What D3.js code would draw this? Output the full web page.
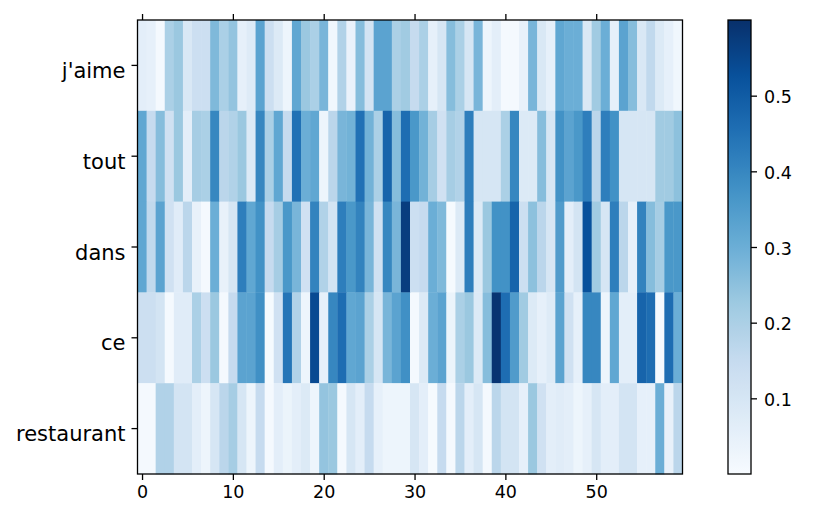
<!DOCTYPE html>
<html>
<head>
<meta charset="utf-8">
<script src="https://cdn.jsdelivr.net/npm/d3@7"></script>
<style>
  body { margin: 0; background: #fff; }
  svg { font-family: 'DejaVu Sans', sans-serif; }
</style>
</head>
<body>
<svg id="chart" width="815" height="526"></svg>
<script>
// input words (rows) and attention weights per output step (60 columns)
const words = ["j'aime", 'tout', 'dans', 'ce', 'restaurant'];

const jaime = [0.06, 0.05, 0.01, 0.20, 0.23, 0.09, 0.13, 0.13, 0.27, 0.20,
  0.24, 0.05, 0.075, 0.33, 0.13, 0.08, 0.03, 0.32, 0.23, 0.20,
  0.28, 0.02, 0.19, 0.04, 0.26, 0.11, 0.33, 0.33, 0.20, 0.22,
  0.15, 0.20, 0.05, 0.10, 0.26, 0.20, 0.10, 0.28, 0.03, 0.06,
  0.01, 0.01, 0.045, 0.28, 0.09, 0.05, 0.32, 0.30, 0.30, 0.09,
  0.22, 0.30, 0.05, 0.33, 0.26, 0.09, 0.16, 0.08, 0.05, 0.02];

const tout = [0.32, 0.15, 0.26, 0.12, 0.23, 0.06, 0.21, 0.20, 0.40, 0.17,
  0.19, 0.23, 0.08, 0.40, 0.20, 0.32, 0.15, 0.45, 0.30, 0.32,
  0.03, 0.17, 0.28, 0.29, 0.45, 0.29, 0.20, 0.48, 0.26, 0.46,
  0.36, 0.29, 0.21, 0.12, 0.21, 0.19, 0.42, 0.10, 0.10, 0.10,
  0.20, 0.40, 0.08, 0.08, 0.26, 0.10, 0.375, 0.33, 0.36, 0.42,
  0.17, 0.42, 0.375, 0.10, 0.10, 0.10, 0.10, 0.22, 0.22, 0.25];

const dans = [0.32, 0.16, 0.33, 0.12, 0.07, 0.17, 0.045, 0.01, 0.30, 0.045,
  0.10, 0.42, 0.32, 0.375, 0.15, 0.21, 0.36, 0.28, 0.12, 0.41,
  0.19, 0.11, 0.42, 0.36, 0.41, 0.28, 0.12, 0.40, 0.28, 0.57,
  0.13, 0.15, 0.30, 0.27, 0.005, 0.08, 0.42, 0.08, 0.23, 0.375,
  0.375, 0.48, 0.13, 0.25, 0.17, 0.10, 0.35, 0.06, 0.11, 0.525,
  0.22, 0.10, 0.42, 0.17, 0.05, 0.41, 0.26, 0.21, 0.36, 0.36];

const ce = [0.13, 0.13, 0.11, 0.01, 0.07, 0.07, 0.20, 0.13, 0.23, 0.01,
  0.15, 0.33, 0.33, 0.38, 0.005, 0.12, 0.44, 0.19, 0.03, 0.54,
  0.05, 0.40, 0.46, 0.32, 0.33, 0.20, 0.10, 0.28, 0.33, 0.38,
  0.01, 0.08, 0.30, 0.33, 0.035, 0.20, 0.23, 0.08, 0.26, 0.59,
  0.46, 0.35, 0.22, 0.08, 0.05, 0.075, 0.33, 0.12, 0.05, 0.40,
  0.40, 0.03, 0.32, 0.06, 0.06, 0.48, 0.46, 0.01, 0.46, 0.30];

const restaurant = [0.01, 0.01, 0.19, 0.19, 0.11, 0.11, 0.06, 0.03, 0.10, 0.17,
  0.21, 0.10, 0.03, 0.15, 0.01, 0.06, 0.035, 0.06, 0.08, 0.03,
  0.24, 0.23, 0.01, 0.10, 0.06, 0.15, 0.05, 0.03, 0.03, 0.03,
  0.10, 0.06, 0.005, 0.15, 0.01, 0.17, 0.06, 0.10, 0.01, 0.17,
  0.11, 0.11, 0.05, 0.23, 0.12, 0.06, 0.07, 0.06, 0.03, 0.05,
  0.10, 0.06, 0.06, 0.11, 0.11, 0.05, 0.05, 0.30, 0.045, 0.17];

const weights = [jaime, tout, dans, ce, restaurant];
const xTicks = [0, 10, 20, 30, 40, 50];
const cbTicks = [0.1, 0.2, 0.3, 0.4, 0.5];
const vmin = 0.0, vmax = 0.6;

// matplotlib 'Blues' stops
const blues = ['#f7fbff', '#deebf7', '#c6dbef', '#9ecae1', '#6baed6',
  '#4292c6', '#2171b5', '#08519c', '#08306b'];

const margin = { top: 20, left: 137.5, right: 132.5, bottom: 52 };
const width = 815 - margin.left - margin.right;
const height = 526 - margin.top - margin.bottom;
const nCols = jaime.length;
const tickFont = 17.5;
const wordFont = 21;

const color = d3.scaleLinear()
  .domain(blues.map((c, i) => vmin + (vmax - vmin) * i / (blues.length - 1)))
  .range(blues)
  .interpolate(d3.interpolateRgb)
  .clamp(true);

const svg = d3.select('#chart');
const g = svg.append('g').attr('transform', `translate(${margin.left},${margin.top})`);

// x is linear so the ticks sit on column centers like imshow
const x = d3.scaleLinear().domain([-0.5, nCols - 0.5]).range([0, width]);
const y = d3.scaleBand().domain(words).range([0, height]).padding(0);

// cells
const cells = [];
weights.forEach((row, r) => {
  row.forEach((v, c) => cells.push({ word: words[r], col: c, value: v }));
});

g.selectAll('.cell')
  .data(cells)
  .enter()
  .append('rect')
  .classed('cell', true)
  .attr('x', (d) => x(d.col - 0.5))
  .attr('y', (d) => y(d.word))
  .attr('width', x(1) - x(0) + 0.4)
  .attr('height', y.bandwidth() + 0.4)
  .attr('fill', (d) => color(d.value));

// frame
g.append('rect')
  .attr('width', width)
  .attr('height', height)
  .attr('fill', 'none')
  .attr('stroke', '#000')
  .attr('stroke-width', 1.3);

function styleAxis(sel, size) {
  sel.select('.domain').remove();
  sel.selectAll('line').attr('stroke', '#000').attr('stroke-width', 1.3);
  sel.selectAll('text')
    .attr('font-size', size)
    .attr('fill', '#000')
    .attr('font-family', 'DejaVu Sans');
}

// bottom axis
const xAxis = g.append('g')
  .attr('transform', `translate(0,${height})`)
  .call(d3.axisBottom(x).tickValues(xTicks).tickSize(6).tickPadding(6).tickFormat(d3.format('d')));
styleAxis(xAxis, tickFont);

// top tick marks, no labels
const xTop = g.append('g')
  .call(d3.axisTop(x).tickValues(xTicks).tickSize(6).tickFormat(''));
styleAxis(xTop, tickFont);

// left axis
const yAxis = g.append('g')
  .call(d3.axisLeft(y).tickSize(6).tickPadding(6));
styleAxis(yAxis, wordFont);
yAxis.selectAll('text').attr('dy', '0.6em');

// colorbar
const cbX = 728, cbW = 23;
const cbScale = d3.scaleLinear().domain([vmin, vmax]).range([margin.top + height, margin.top]);

const defs = svg.append('defs');
const grad = defs.append('linearGradient')
  .attr('id', 'cbGrad')
  .attr('x1', 0).attr('y1', 1).attr('x2', 0).attr('y2', 0);
d3.range(0, 1.0001, 0.02).forEach((t) => {
  grad.append('stop')
    .attr('offset', t)
    .attr('stop-color', color(vmin + t * (vmax - vmin)));
});

svg.append('rect')
  .attr('x', cbX)
  .attr('y', margin.top)
  .attr('width', cbW)
  .attr('height', height)
  .attr('fill', 'url(#cbGrad)')
  .attr('stroke', '#000')
  .attr('stroke-width', 1.3);

const cbAxis = svg.append('g')
  .attr('transform', `translate(${cbX + cbW},0)`)
  .call(d3.axisRight(cbScale).tickValues(cbTicks).tickSize(6).tickPadding(7).tickFormat(d3.format('.1f')));
styleAxis(cbAxis, tickFont);
cbAxis.selectAll('text').attr('dy', '0.4em');
</script>
</body>
</html>
